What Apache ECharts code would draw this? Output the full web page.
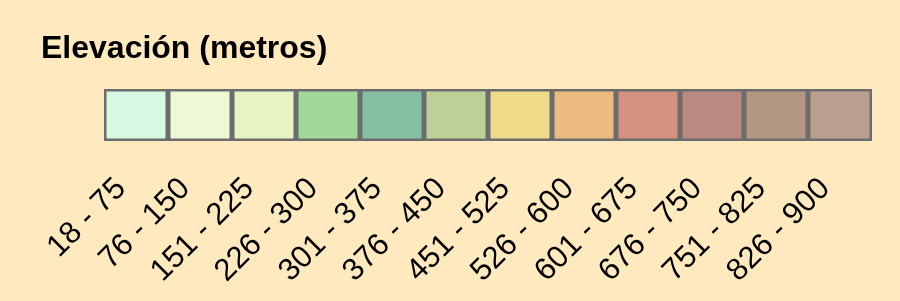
<!DOCTYPE html>
<html>
<head>
<meta charset="utf-8">
<script src="https://cdn.jsdelivr.net/npm/echarts@6/dist/echarts.min.js"></script>
<style>
  html, body { margin: 0; padding: 0; background: #ffeabf; }
  #chart { width: 900px; height: 301px; }
</style>
</head>
<body>
<div id="chart"></div>
<script>
// rangos de elevacion
var ranges = ['18 - 75', '76 - 150', '151 - 225', '226 - 300', '301 - 375', '376 - 450',
  '451 - 525', '526 - 600', '601 - 675', '676 - 750', '751 - 825', '826 - 900'];
// cada celda ocupa una unidad
var cellValues = [1, 1, 1, 1, 1, 1, 1, 1, 1, 1, 1, 1];
var cellColors = ['#d7f8e1', '#eefad5', '#e8f3c2', '#a2d89a', '#84bea3', '#bfcf98',
  '#efda8a', '#ecbb80', '#d49382', '#b88a80', '#b39584', '#b9a08e'];

var myChart = echarts.init(document.getElementById('chart'));
var option = {
    backgroundColor: '#ffeabf',
    animation: false,
    title: {
        text: 'Elevación (metros)',
        left: 36,
        top: 28,
        textStyle: {
            fontFamily: 'Liberation Sans',
            fontWeight: 'bold',
            fontSize: 32,
            color: '#000'
        }
    },
    grid: { left: 104, right: 28, top: 89, height: 52 },
    xAxis: {
        type: 'category',
        data: ranges,
        axisLine: { show: false },
        axisTick: { show: false },
        axisLabel: {
            interval: 0,
            rotate: 45,
            margin: 28,
            padding: [0, 21, 0, 0],
            fontFamily: 'Liberation Sans',
            fontSize: 31,
            color: '#000'
        }
    },
    yAxis: { type: 'value', min: 0, max: 1, show: false },
    series: [{
        type: 'bar',
        barWidth: '100%',
        data: cellValues.map(function (v, i) {
            return { value: v, itemStyle: { color: cellColors[i] } };
        }),
        itemStyle: { borderColor: '#6c6c6c', borderWidth: 2.5 }
    }]
};
myChart.setOption(option);
</script>
</body>
</html>
